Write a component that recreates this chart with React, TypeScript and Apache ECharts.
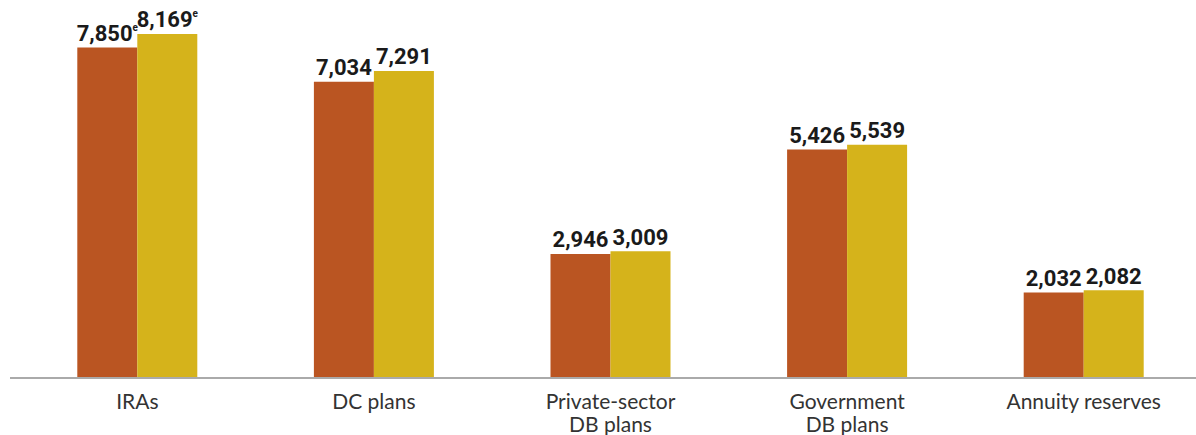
import React, { useEffect, useRef } from "react";
import * as echarts from "echarts";

const categories = ["IRAs", "DC plans", "Private-sector\nDB plans", "Government\nDB plans", "Annuity reserves"];
const seriesA = [7850, 7034, 2946, 5426, 2032];
const seriesB = [8169, 7291, 3009, 5539, 2082];
const estimatedA = [true, false, false, false, false];
const estimatedB = [true, false, false, false, false];
const seriesNames = ["Earlier", "Later"];

const fmt = (v: number) => v.toLocaleString("en-US");

export default function App() {
  const ref = useRef<HTMLDivElement>(null);
  useEffect(() => {
    document.body.style.margin = "0";
    document.body.style.overflow = "hidden";
    const chart = echarts.init(ref.current!, null, { renderer: "svg" });
    const labelFont = "Roboto, 'DejaVu Sans Condensed', sans-serif";
    const makeLabel = (est: boolean[]) => ({
      show: true,
      position: "top" as const,
      distance: 3,
      formatter: (p: any) => (est[p.dataIndex] ? `{v|${fmt(p.value)}}{e|e}` : `{v|${fmt(p.value)}}`),
      rich: {
        v: { fontFamily: labelFont, fontWeight: "bold", fontSize: 22, color: "#1a1a1a" },
        e: { fontFamily: labelFont, fontWeight: "bold", fontSize: 10, color: "#1a1a1a", verticalAlign: "top", padding: [0, 0, 10, 0] },
      },
    });
    chart.setOption({
      animation: false,
      grid: { left: 19, right: 8, top: 20, bottom: 57 },
      xAxis: {
        type: "category",
        data: categories,
        axisLine: { show: false },
        axisTick: { show: false },
        axisLabel: {
          color: "#333",
          fontFamily: "Lato, 'Open Sans', sans-serif",
          fontSize: 21,
          lineHeight: 23,
          margin: 11,
        },
      },
      yAxis: { type: "value", min: 0, max: 8500, show: false, splitLine: { show: false } },
      series: [
        {
          name: seriesNames[0],
          type: "bar",
          data: seriesA,
          barWidth: 60,
          barGap: "0%",
          itemStyle: { color: "#BA5522" },
          label: makeLabel(estimatedA),
        },
        {
          name: seriesNames[1],
          type: "bar",
          data: seriesB,
          barWidth: 60,
          barGap: "0%",
          itemStyle: { color: "#D5B31B" },
          label: makeLabel(estimatedB),
        },
      ],
      graphic: [
        { type: "line", shape: { x1: 10, y1: 378, x2: 1196, y2: 378 }, style: { stroke: "#aaaaaa", lineWidth: 2 }, z: 10 },
      ],
    });
    return () => chart.dispose();
  }, []);
  return <div ref={ref} style={{ width: 1210, height: 435 }} />;
}
